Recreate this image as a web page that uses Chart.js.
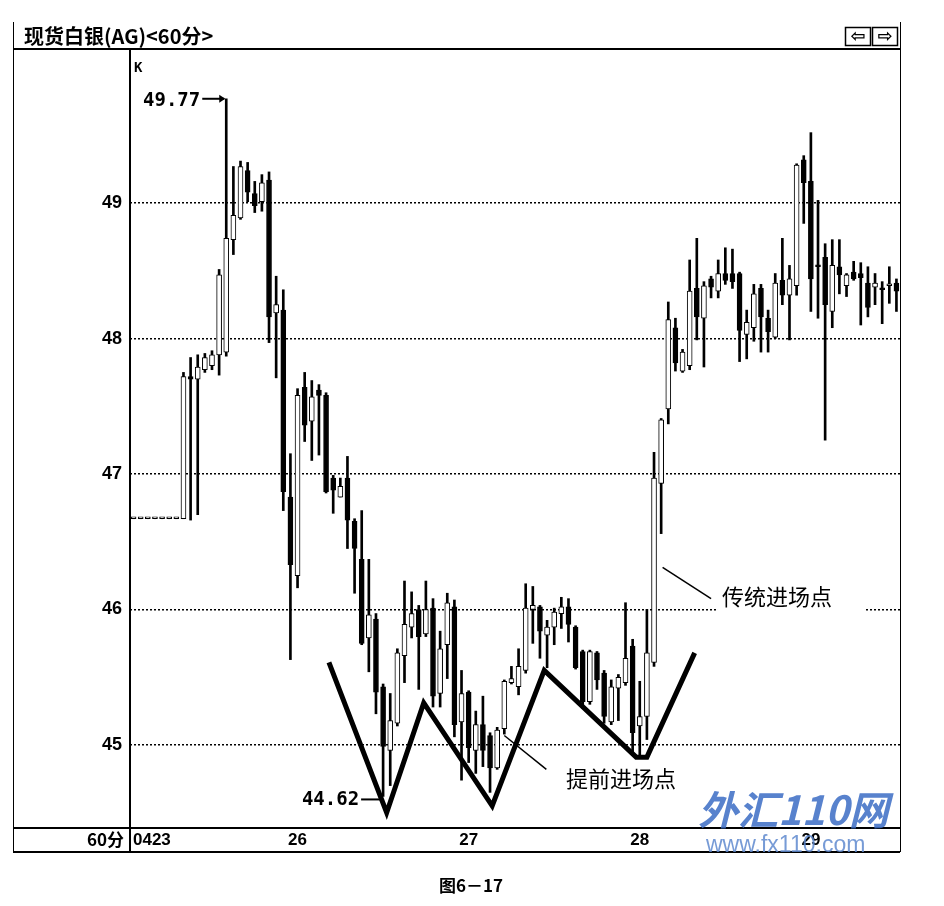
<!DOCTYPE html>
<html>
<head>
<meta charset="utf-8">
<script src="https://cdn.jsdelivr.net/npm/chart.js@4.4.1/dist/chart.umd.min.js"></script>
<style>
  html, body { margin: 0; padding: 0; background: #fff; }
  #wrap { width: 944px; height: 906px; }
</style>
</head>
<body>
<div id="wrap"><canvas id="kline" width="944" height="906"></canvas></div>
<script>
// 60 minute candles, silver spot (AG)
var OPEN = [
  46.67, 46.67, 46.67, 46.67, 46.67, 46.67, 46.67, 46.67, 47.72, 47.70,
  47.77, 47.80, 47.88, 47.90, 48.73, 48.89, 49.24, 49.07, 49.01, 49.17,
  48.19, 48.21, 46.83, 46.25, 47.64, 47.39, 47.62, 47.58, 46.97, 46.83,
  46.97, 46.65, 46.37, 45.79, 45.93, 45.43, 44.96, 45.16, 45.66, 45.87,
  46.00, 45.82, 46.01, 45.38, 45.74, 46.02, 45.17, 45.39, 44.96, 45.15,
  45.07, 44.83, 45.12, 45.46, 45.43, 45.55, 46.00, 46.02, 45.81, 45.87,
  45.97, 46.02, 45.87, 45.69, 45.32, 45.68, 45.53, 45.17, 45.42, 45.46,
  45.73, 45.14, 45.21, 45.61, 46.93, 47.48, 48.08, 47.76, 47.80, 48.37,
  48.15, 48.44, 48.35, 48.48, 48.48, 48.48, 48.03, 48.08, 48.37, 48.15,
  48.01, 48.43, 48.32, 48.39, 49.32, 49.16, 48.54, 48.60, 48.20, 48.53,
  48.39, 48.49, 48.48, 48.41, 48.38, 48.37, 48.39, 48.41
];
var HIGH = [
  46.67, 46.67, 46.67, 46.67, 46.67, 46.67, 46.67, 47.75, 47.86, 47.88,
  47.89, 47.91, 48.51, 49.77, 49.27, 49.31, 49.30, 49.16, 49.21, 49.23,
  48.46, 48.36, 47.15, 47.63, 47.75, 47.69, 47.66, 47.60, 46.99, 46.97,
  47.13, 46.67, 46.73, 46.37, 45.97, 45.45, 45.38, 45.71, 46.21, 46.13,
  46.03, 46.21, 46.08, 45.84, 46.12, 46.07, 45.55, 45.40, 45.25, 45.36,
  45.09, 45.13, 45.48, 45.58, 45.71, 46.19, 46.17, 46.03, 45.92, 46.01,
  46.09, 46.08, 45.88, 45.70, 45.70, 45.69, 45.55, 45.48, 45.52, 46.05,
  45.78, 45.47, 46.00, 47.16, 47.41, 48.27, 48.15, 47.92, 48.58, 48.74,
  48.42, 48.46, 48.58, 48.67, 48.66, 48.49, 48.21, 48.40, 48.40, 48.21,
  48.48, 48.74, 48.54, 49.29, 49.35, 49.52, 49.02, 48.70, 48.73, 48.73,
  48.48, 48.57, 48.56, 48.53, 48.48, 48.42, 48.53, 48.44
];
var LOW = [
  46.67, 46.67, 46.67, 46.67, 46.67, 46.67, 46.67, 46.67, 46.66, 46.70,
  47.75, 47.77, 47.73, 47.87, 48.62, 48.88, 49.01, 48.93, 48.94, 47.97,
  47.71, 46.73, 45.63, 46.16, 47.24, 47.10, 47.14, 46.86, 46.71, 46.83,
  46.45, 46.12, 45.74, 45.54, 45.23, 44.62, 44.70, 45.14, 45.46, 45.79,
  45.41, 45.80, 45.28, 45.28, 45.49, 45.06, 44.74, 44.87, 44.79, 44.84,
  44.65, 44.82, 45.08, 45.45, 45.37, 45.53, 45.75, 45.64, 45.57, 45.74,
  45.86, 45.76, 45.56, 45.27, 45.30, 45.41, 45.16, 45.15, 45.18, 45.44,
  44.94, 44.91, 45.04, 45.58, 46.56, 47.37, 47.76, 47.75, 47.77, 47.99,
  47.79, 48.30, 48.30, 48.40, 48.37, 47.83, 47.85, 47.98, 47.90, 47.90,
  48.00, 48.25, 47.99, 48.32, 48.85, 48.20, 48.15, 47.25, 48.08, 48.33,
  48.31, 48.43, 48.10, 48.16, 48.25, 48.11, 48.26, 48.20
];
var CLOSE = [
  46.67, 46.67, 46.67, 46.67, 46.67, 46.67, 46.67, 47.72, 47.70, 47.79,
  47.86, 47.88, 48.47, 48.74, 48.91, 49.27, 49.08, 48.98, 49.15, 48.16,
  48.25, 46.87, 46.33, 47.58, 47.36, 47.57, 47.58, 46.87, 46.88, 46.91,
  46.66, 46.45, 45.75, 45.96, 45.39, 44.99, 45.18, 45.68, 45.89, 45.97,
  45.80, 46.00, 45.36, 45.71, 46.05, 45.15, 45.38, 44.98, 45.15, 44.96,
  44.83, 45.11, 45.47, 45.49, 45.58, 46.01, 46.03, 45.84, 45.87, 45.98,
  46.02, 45.89, 45.57, 45.32, 45.69, 45.48, 45.21, 45.43, 45.50, 45.64,
  45.09, 45.21, 45.68, 46.97, 47.40, 48.14, 47.82, 47.90, 48.35, 48.16,
  48.39, 48.38, 48.48, 48.43, 48.42, 48.06, 48.12, 48.33, 48.16, 48.05,
  48.41, 48.32, 48.44, 49.28, 49.15, 48.44, 48.53, 48.25, 48.54, 48.47,
  48.47, 48.44, 48.45, 48.23, 48.41, 48.36, 48.40, 48.35
];

var Y_TICKS = [45, 46, 47, 48, 49];
var X_LABELS = ["0423", "26", "27", "28", "29"];
var X_LABEL_AT = [0, 23, 47, 71, 95];

// hand-drawn W bottom and the two pointer strokes (candle index, price)
var ZIGZAG_X = [27.4, 35.5, 40.7, 50.3, 57.6, 70.5, 72.0, 78.7];
var ZIGZAG_Y = [45.61, 44.50, 45.31, 44.55, 45.55, 44.91, 44.91, 45.68];
var EARLY_X = [52.0, 57.9];
var EARLY_Y = [45.07, 44.82];
var TRAD_X = [74.2, 81.0];
var TRAD_Y = [46.31, 46.08];

function pts(xs, ys) {
  return xs.map(function (x, i) { return { x: x, y: ys[i] }; });
}

var framePlugin = {
  id: "frame",
  afterDatasetsDraw: function (chart) {
    var ctx = chart.ctx;
    var a = chart.chartArea;
    var xs = chart.scales.x;
    var ys = chart.scales.y;
    ctx.save();
    ctx.fillStyle = "#000";
    ctx.strokeStyle = "#000";

    // outer frame and panel separators
    ctx.lineWidth = 2;
    ctx.beginPath();
    ctx.moveTo(13, 49); ctx.lineTo(a.right, 49);
    ctx.moveTo(13, a.bottom); ctx.lineTo(a.right, a.bottom);
    ctx.moveTo(13, 852); ctx.lineTo(a.right, 852);
    ctx.moveTo(a.left, 49); ctx.lineTo(a.left, 852);
    ctx.stroke();
    ctx.lineWidth = 1;
    ctx.beginPath();
    ctx.moveTo(13.5, 22); ctx.lineTo(13.5, 852);
    ctx.moveTo(a.right + 0.5, 22); ctx.lineTo(a.right + 0.5, 852);
    ctx.stroke();

    // header
    ctx.font = "bold 20px 'Noto Sans CJK SC'";
    ctx.textBaseline = "middle";
    ctx.textAlign = "left";
    ctx.fillText("现货白银(AG)<60分>", 24, 36);
    ctx.lineWidth = 1.5;
    ctx.strokeRect(845.5, 27.5, 25, 18);
    ctx.strokeRect(872.5, 27.5, 25, 18);
    ctx.font = "bold 18px 'DejaVu Sans'";
    ctx.textAlign = "center";
    ctx.fillText("\u21e6", 858, 37);
    ctx.fillText("\u21e8", 885, 37);

    ctx.font = "bold 14px 'DejaVu Sans Mono'";
    ctx.textAlign = "left";
    ctx.fillText("K", a.left + 4, 68);

    // x labels in the bottom row
    ctx.font = "bold 17px 'Liberation Sans'";
    X_LABELS.forEach(function (t, i) {
      var px = xs.getPixelForValue(X_LABEL_AT[i]);
      ctx.textAlign = i === 0 ? "left" : "center";
      ctx.fillText(t, i === 0 ? a.left + 3 : px, 840);
    });
    ctx.textAlign = "right";
    ctx.font = "bold 17px 'Noto Sans CJK SC'";
    ctx.fillText("60分", a.left - 6, 840);

    // max / min markers
    var hiIdx = HIGH.indexOf(Math.max.apply(null, HIGH));
    var loIdx = LOW.indexOf(Math.min.apply(null, LOW));
    var hx = xs.getPixelForValue(hiIdx);
    var hy = ys.getPixelForValue(HIGH[hiIdx]);
    ctx.font = "bold 19px 'DejaVu Sans Mono'";
    ctx.textAlign = "right";
    ctx.fillText(HIGH[hiIdx].toFixed(2), hx - 26, hy + 2);
    ctx.lineWidth = 2;
    ctx.beginPath();
    ctx.moveTo(hx - 24, hy); ctx.lineTo(hx - 2, hy);
    ctx.stroke();
    ctx.beginPath();
    ctx.moveTo(hx - 1, hy); ctx.lineTo(hx - 7, hy - 4); ctx.lineTo(hx - 7, hy + 4);
    ctx.closePath(); ctx.fill();

    var lx = xs.getPixelForValue(loIdx);
    var ly = ys.getPixelForValue(LOW[loIdx]) + 3;
    ctx.fillText(LOW[loIdx].toFixed(2), lx - 24, ly + 1);
    ctx.beginPath();
    ctx.moveTo(lx - 22, ly); ctx.lineTo(lx - 3, ly);
    ctx.stroke();

    // annotations
    ctx.font = "22px 'Noto Sans CJK SC'";
    ctx.textAlign = "left";
    ctx.fillStyle = "#fff";
    ctx.fillRect(716, ys.getPixelForValue(46) - 3, 148, 6);
    ctx.fillStyle = "#000";
    ctx.fillText("传统进场点", 722, 597);
    ctx.fillText("提前进场点", 566, 779);

    // caption
    ctx.font = "bold 17px 'Noto Sans CJK SC'";
    ctx.textAlign = "center";
    ctx.fillText("图6－17", 471, 886);

    // watermark
    ctx.globalAlpha = 0.85;
    ctx.fillStyle = "#3b6cc4";
    ctx.font = "italic bold 40px 'Noto Sans CJK SC'";
    ctx.textAlign = "left";
    ctx.fillText("外汇110网", 698, 810);
    ctx.fillStyle = "#5f89cf";
    ctx.font = "23px 'Liberation Sans'";
    ctx.fillText("www.fx110.com", 706, 846);
    ctx.restore();
  }
};

var ctx = document.getElementById("kline").getContext("2d");

new Chart(ctx, {
  type: "bar",
  data: {
    datasets: [
      {
        type: "line",
        data: pts(ZIGZAG_X, ZIGZAG_Y),
        borderColor: "#000",
        borderWidth: 5,
        borderJoinStyle: "miter",
        pointRadius: 0,
        tension: 0,
        order: 0,
      },
      {
        type: "line",
        data: pts(EARLY_X, EARLY_Y),
        borderColor: "#000",
        borderWidth: 1.5,
        pointRadius: 0,
        order: 0,
      },
      {
        type: "line",
        data: pts(TRAD_X, TRAD_Y),
        borderColor: "#000",
        borderWidth: 1.5,
        pointRadius: 0,
        order: 0,
      },
      {
        label: "body",
        data: OPEN.map(function (o, i) { return { x: i, y: [o, CLOSE[i]] }; }),
        backgroundColor: OPEN.map(function (o, i) { return CLOSE[i] >= o ? "#fff" : "#000"; }),
        borderColor: "#000",
        borderWidth: 1,
        borderSkipped: false,
        barThickness: 5,
        minBarLength: 2,
        grouped: false,
        order: 1,
      },
      {
        label: "wick",
        data: LOW.map(function (l, i) { return { x: i, y: [l, HIGH[i]] }; }),
        backgroundColor: "#000",
        barThickness: 2,
        grouped: false,
        order: 2,
      },
    ],
  },
  options: {
    responsive: false,
    animation: false,
    devicePixelRatio: 1,
    layout: { padding: { left: 13, right: 44, top: 50, bottom: 78 } },
    scales: {
      x: { type: "linear", min: -0.5, max: 107.5, offset: false, display: false },
      y: {
        min: 44.387,
        max: 50.13,
        afterFit: function (s) { s.width = 117; },
        afterBuildTicks: function (s) {
          s.ticks = Y_TICKS.map(function (v) { return { value: v }; });
        },
        grid: {
          color: "#000",
          lineWidth: 1.5,
          borderDash: [2, 2],
          drawTicks: false,
        },
        border: { display: false, dash: [2, 2] },
        ticks: {
          color: "#000",
          padding: 8,
          font: { family: "Liberation Sans", size: 18, weight: "bold" },
        },
      },
    },
    plugins: { legend: { display: false }, tooltip: { enabled: false } },
  },
  plugins: [framePlugin],
});
</script>
</body>
</html>
